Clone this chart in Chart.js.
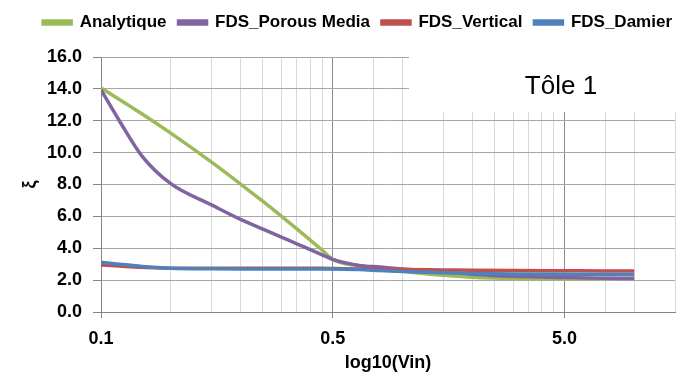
<!DOCTYPE html>
<html>
<head>
<meta charset="utf-8">
<script src="https://cdn.jsdelivr.net/npm/chart.js@4"></script>
<style>
  html, body { margin: 0; padding: 0; background: #fff; }
  #wrap { width: 686px; height: 380px; }
</style>
</head>
<body>
<div id="wrap"><canvas id="tole-chart" width="686" height="380"></canvas></div>
<script>
// Vin values (log axis)
const xValues = [0.1, 0.12, 0.15, 0.2, 0.3, 0.4, 0.5, 0.6, 0.7, 0.8, 0.9, 1, 1.3, 1.6, 2, 3, 4, 6, 10, 15, 20];

// xi per series
const analytique   = [14.05, 13.34, 12.44, 11.22, 9.4, 8.03, 6.94, 6.02, 5.22, 4.51, 3.88, 3.3, 2.9, 2.7, 2.55, 2.3, 2.18, 2.1, 2.08, 2.1, 2.12];
const porousMedia  = [13.94, 12.0, 9.8, 8.05, 6.72, 5.81, 5.2, 4.7, 4.28, 3.91, 3.59, 3.3, 2.92, 2.82, 2.7, 2.52, 2.37, 2.24, 2.16, 2.12, 2.1];
const fdsVertical  = [2.95, 2.88, 2.8, 2.74, 2.74, 2.74, 2.74, 2.74, 2.74, 2.74, 2.74, 2.73, 2.7, 2.68, 2.67, 2.64, 2.62, 2.6, 2.59, 2.58, 2.58];
const fdsDamier    = [3.12, 3.0, 2.86, 2.75, 2.71, 2.7, 2.7, 2.7, 2.7, 2.7, 2.7, 2.7, 2.66, 2.6, 2.54, 2.46, 2.42, 2.39, 2.37, 2.36, 2.36];

// tick labels as printed on the original x axis
const xTickValues = [0.1, 1, 10];
const xTickLabels = ['0.1', '0.5', '5.0'];

const seriesNames = ['Analytique', 'FDS_Porous Media', 'FDS_Vertical', 'FDS_Damier'];
const seriesColors = ['#9BBB59', '#8064A2', '#C0504D', '#4F81BD'];

const toPoints = ys => ys.map((y, i) => ({ x: xValues[i], y: y }));
const isDecade = v => Math.abs(Math.log10(v) - Math.round(Math.log10(v))) < 1e-9;

const font = 'Liberation Sans, Arial, sans-serif';

// white label box with the title, drawn over the grid
const toleLabel = {
    id: 'toleLabel',
    afterDraw(chart) {
        const ctx = chart.ctx;
        ctx.save();
        ctx.fillStyle = '#fff';
        ctx.fillRect(409, 45, 277, 67);
        ctx.fillStyle = '#000';
        ctx.font = '26px ' + font;
        ctx.textAlign = 'center';
        ctx.textBaseline = 'alphabetic';
        ctx.fillText('Tôle 1', 561, 94);
        ctx.restore();
    }
};

// force legend height so the plot starts at the right place, and nudge it right
const legendBox = {
    id: 'legendBox',
    beforeInit(chart) {
        const fit = chart.legend.fit;
        chart.legend.fit = function () {
            fit.bind(chart.legend)();
            this.height = 55;
        };
    },
    afterLayout(chart) {
        chart.legend.right += 9;
    }
};

const datasets = [analytique, porousMedia, fdsVertical, fdsDamier].map((ys, i) => ({
    label: seriesNames[i],
    data: toPoints(ys),
    borderColor: seriesColors[i],
    backgroundColor: seriesColors[i],
    borderWidth: 3.5,
    pointRadius: 0,
    cubicInterpolationMode: 'monotone',
    order: 4 - i
}));

const ctx = document.getElementById('tole-chart').getContext('2d');
new Chart(ctx, {
    type: 'line',
    data: { datasets: datasets },
    options: {
        responsive: false,
        animation: false,
        layout: { padding: { top: 2, right: 11, left: 0, bottom: 0 } },
        plugins: {
            legend: {
                position: 'top',
                align: 'end',
                labels: {
                    boxWidth: 28,
                    boxHeight: 3,
                    padding: 12,
                    color: '#000',
                    font: { family: font, size: 17, weight: 'bold' },
                    sort: (a, b) => a.datasetIndex - b.datasetIndex
                }
            },
            tooltip: { enabled: false }
        },
        scales: {
            x: {
                type: 'logarithmic',
                min: 0.1,
                max: 30,
                afterFit: scale => { scale.height = 68; },
                border: { color: '#868686', width: 1 },
                grid: {
                    color: c => isDecade(c.tick.value) ? '#8c8c8c' : '#d9d9d9',
                    tickColor: c => isDecade(c.tick.value) ? '#868686' : 'rgba(0,0,0,0)',
                    tickLength: 6
                },
                ticks: {
                    autoSkip: false,
                    maxRotation: 0,
                    padding: 10,
                    color: '#000',
                    font: { family: font, size: 18, weight: 'bold' },
                    callback: v => {
                        const k = xTickValues.findIndex(t => Math.abs(t - v) < 1e-9);
                        return k >= 0 ? xTickLabels[k] : '';
                    }
                },
                title: {
                    display: true,
                    text: 'log10(Vin)',
                    color: '#000',
                    font: { family: font, size: 18, weight: 'bold' },
                    padding: { top: 0, bottom: 6 }
                }
            },
            y: {
                min: 0,
                max: 16,
                afterFit: scale => { scale.width = 101; },
                border: { color: '#868686', width: 1 },
                grid: { color: '#a6a6a6', tickColor: '#868686', tickLength: 8 },
                ticks: {
                    stepSize: 2,
                    padding: 11,
                    color: '#000',
                    font: { family: font, size: 18, weight: 'bold' },
                    callback: v => v.toFixed(1)
                },
                title: {
                    display: true,
                    text: 'ξ',
                    color: '#000',
                    font: { family: font, size: 18, weight: 'bold' },
                    padding: { top: 19, bottom: 0 }
                }
            }
        }
    },
    plugins: [legendBox, toleLabel]
});
</script>
</body>
</html>
